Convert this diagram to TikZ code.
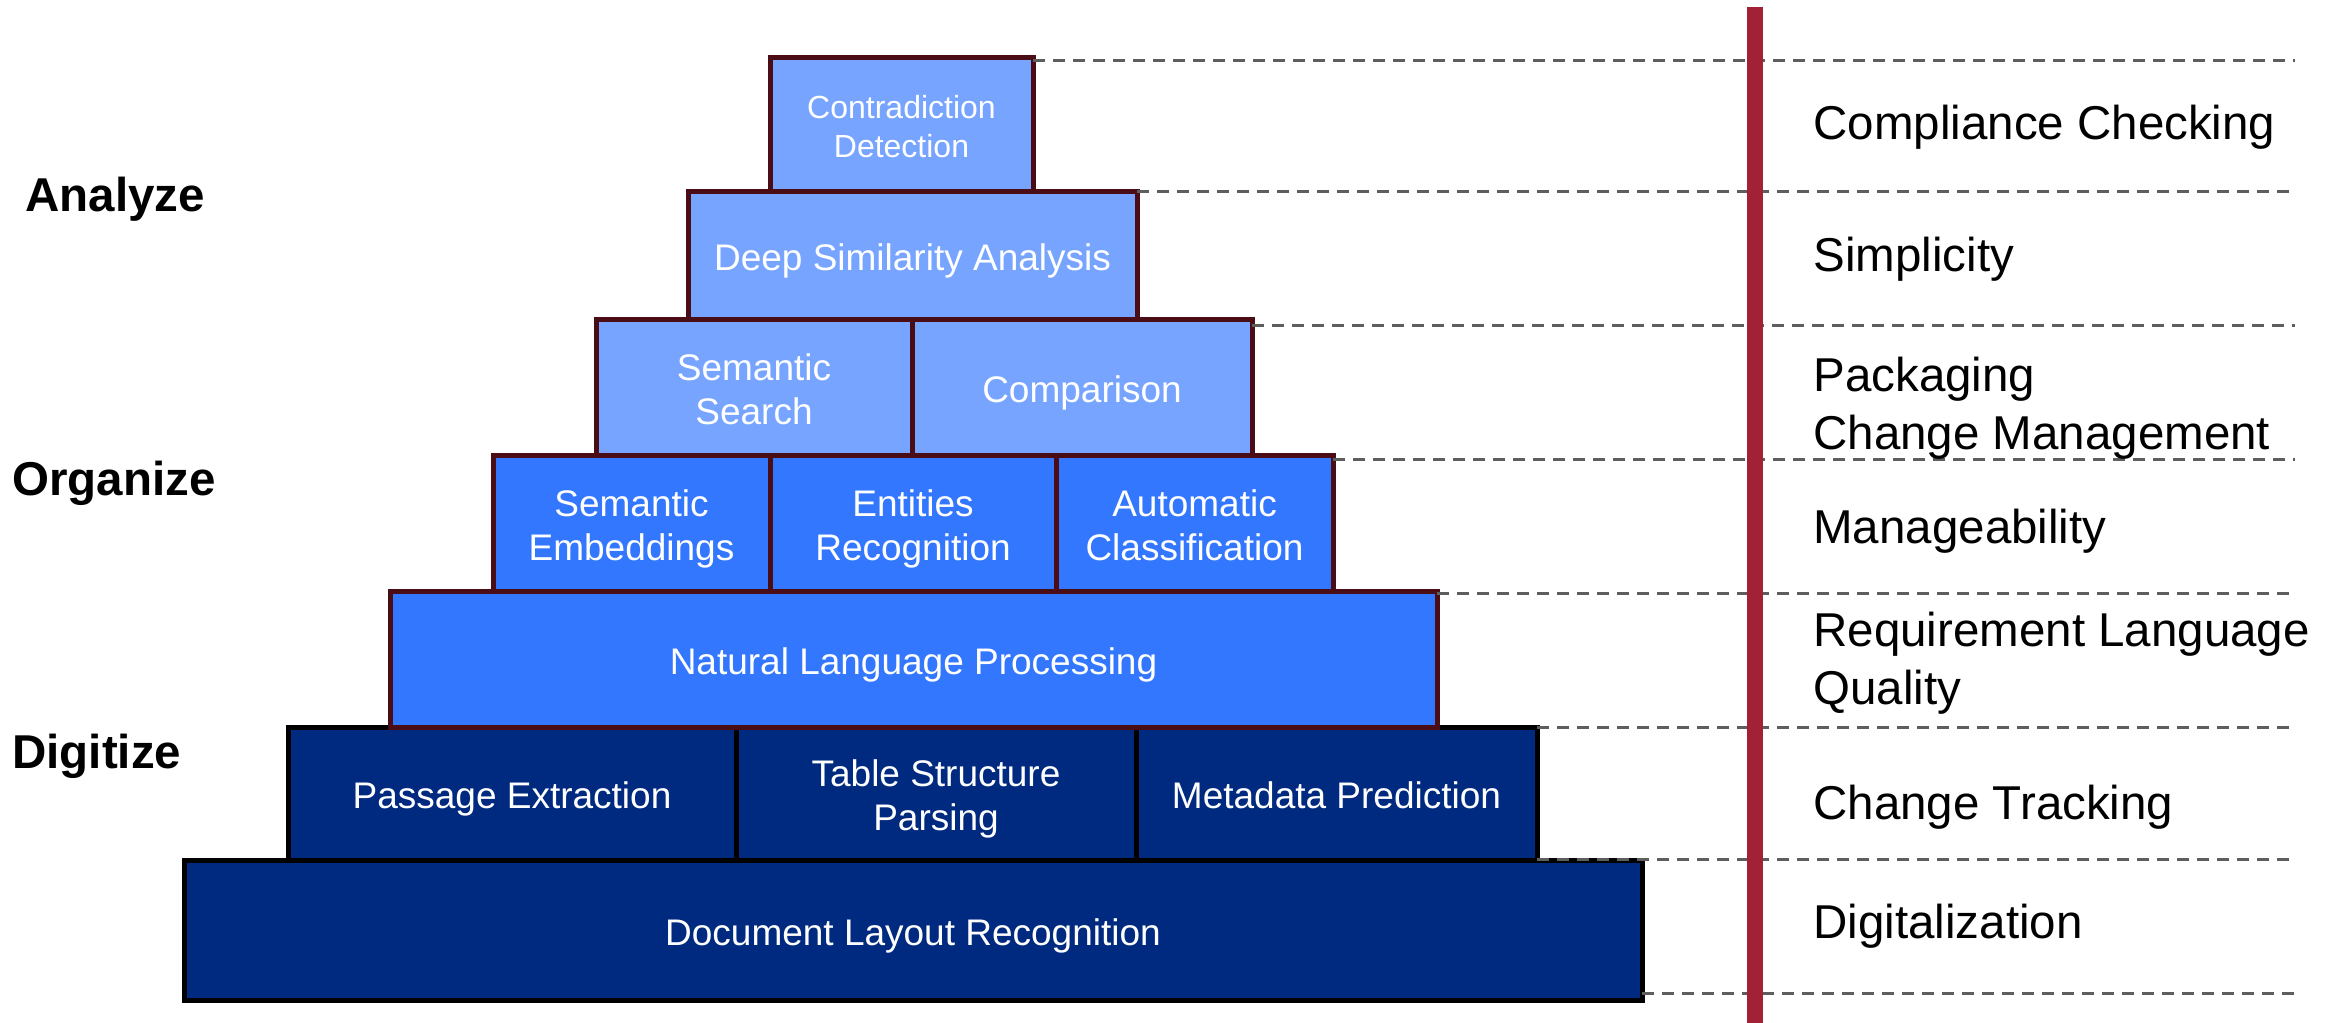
\documentclass[tikz,border=0pt]{standalone}
\usepackage{fontspec}
\setmainfont{Liberation Sans}
\definecolor{tierlight}{HTML}{76A4FF}
\definecolor{tiermid}{HTML}{3377FF}
\definecolor{tierdark}{HTML}{002A7F}
\definecolor{edgemaroon}{HTML}{4A0D16}
\definecolor{axisred}{HTML}{A32136}
\definecolor{guidegray}{HTML}{5E5E5E}
\begin{document}
\begin{tikzpicture}[x=0.5pt, y=-0.5pt,
  layer/.style={draw, line width=2.5pt, inner sep=0pt, outer sep=0pt,
    align=center, text=white, font=\fontsize{18.5}{22}\selectfont,
    text height=15.25pt, text depth=0pt},
  twolines/.style={text height=37.25pt},
  analysebox/.style={layer, fill=tierlight, draw=edgemaroon},
  organisebox/.style={layer, fill=tiermid, draw=edgemaroon},
  digitisebox/.style={layer, fill=tierdark, draw=black},
  guide/.style={draw=guidegray, line width=1.5pt, dash pattern=on 6pt off 4pt},
  benefit/.style={anchor=base west, align=left, inner sep=0pt,
    font=\fontsize{23.75}{29}\selectfont},
  phase/.style={anchor=base west, inner sep=0pt,
    font=\fontsize{23.75}{29}\selectfont\bfseries}]
\useasboundingbox (0,0) rectangle (2341,1023);

% pyramid, drawn from the base upwards
\node[digitisebox, minimum width=729pt, minimum height=70pt] (layout) at (913,930) {Document Layout Recognition};

\node[digitisebox, minimum width=224pt, minimum height=66.5pt] (passage) at (512,793.5) {Passage Extraction};
\node[digitisebox, twolines, minimum width=200pt, minimum height=66.5pt] (table) at (936,793.5) {Table Structure\\Parsing};
\node[digitisebox, minimum width=200.5pt, minimum height=66.5pt] (meta) at (1336.5,793.5) {Metadata Prediction};

\node[organisebox, minimum width=523.5pt, minimum height=68pt] (nlp) at (913.5,659) {Natural Language Processing};

\node[organisebox, twolines, minimum width=138.5pt, minimum height=68pt] (embed) at (631.5,523) {Semantic\\Embeddings};
\node[organisebox, twolines, minimum width=143pt, minimum height=68pt] (entities) at (913,523) {Entities\\Recognition};
\node[organisebox, twolines, minimum width=138.5pt, minimum height=68pt] (classif) at (1194.5,523) {Automatic\\Classification};

\node[analysebox, twolines, minimum width=158pt, minimum height=68pt] (search) at (754,387) {Semantic\\Search};
\node[analysebox, minimum width=170pt, minimum height=68pt] (compare) at (1082,387) {Comparison};

\node[analysebox, minimum width=224.5pt, minimum height=64pt] (similar) at (912.5,255) {Deep Similarity Analysis};

\node[analysebox, minimum width=131.5pt, minimum height=67pt,
  font=\fontsize{16}{19.5}\selectfont, text height=33.95pt] (contra) at (901.5,124) {Contradiction\\Detection};

% dashed level guides
\coordinate (g1) at (2295,60);
\coordinate (g2) at (2295,191);
\coordinate (g3) at (2295,325);
\coordinate (g4) at (2295,459);
\coordinate (g5) at (2295,593);
\coordinate (g6) at (2295,727);
\coordinate (g7) at (2295,859);
\coordinate (g8) at (2295,993);
\draw[guide] (contra.east |- g1) -- (g1);
\draw[guide] (similar.east |- g2) -- (g2);
\draw[guide] (compare.east |- g3) -- (g3);
\draw[guide] (classif.east |- g4) -- (g4);
\draw[guide] (nlp.east |- g5) -- (g5);
\draw[guide] (meta.east |- g6) -- (g6);
\draw[guide] (meta.east |- g7) -- (g7);
\draw[guide] (layout.east |- g8) -- (g8);

% vertical separator
\coordinate (axistop) at (1755,7);
\coordinate (axisbottom) at (1755,1023);
\draw[axisred, line width=8pt] (axistop) -- (axisbottom);

% phase labels
\node[phase] (analyze) at (25,211) {Analyze};
\node[phase] (organize) at (12,495) {Organize};
\node[phase] (digitize) at (12,768) {Digitize};

% benefits column (multi-line nodes sit on the baseline of their last line)
\node[benefit] (compliance) at (1813,139) {Compliance Checking};
\node[benefit] (simplicity) at (1813,271) {Simplicity};
\node[benefit] (packaging) at (1813,449) {Packaging\\Change Management};
\node[benefit] (manage) at (1813,543) {Manageability};
\node[benefit] (quality) at (1813,704) {Requirement Language\\Quality};
\node[benefit] (tracking) at (1813,819) {Change Tracking};
\node[benefit] (digital) at (1813,938) {Digitalization};
\end{tikzpicture}
\end{document}
